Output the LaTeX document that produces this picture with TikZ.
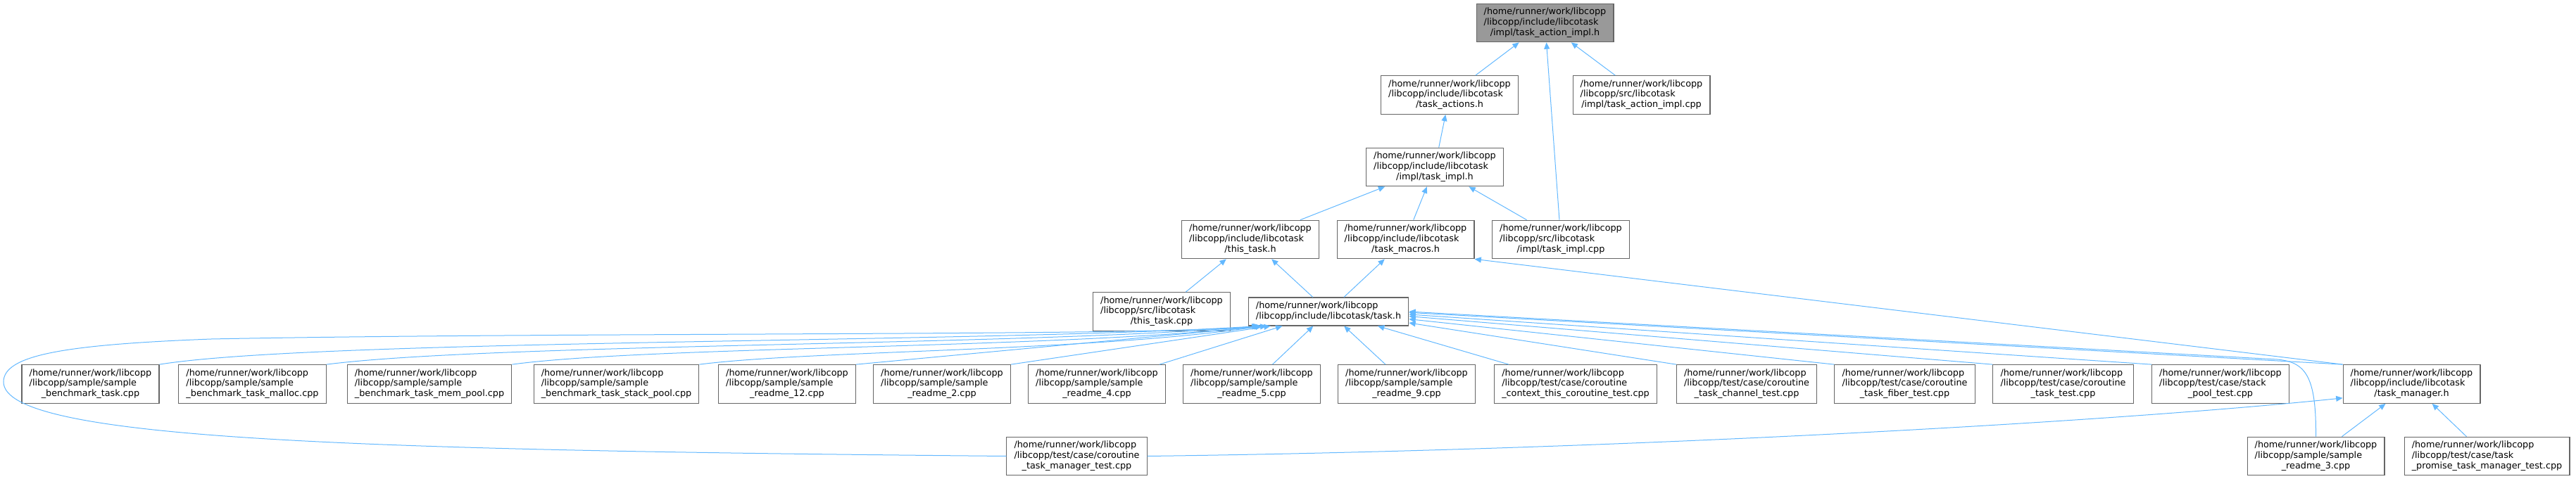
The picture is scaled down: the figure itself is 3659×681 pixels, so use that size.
\documentclass[tikz,border=0pt]{standalone}
\usepackage{fontspec}
\setmainfont{DejaVu Sans}
\usetikzlibrary{arrows.meta}

\definecolor{edgeblue}{HTML}{63B8FF}
\definecolor{boxgray}{HTML}{666666}
\definecolor{focusgray}{HTML}{999999}

% three-line file label: fixed prefix, middle line, centred last line
\newcommand{\filelabel}[2]{%
  \begin{tabular}{@{}l@{}}
    /home/runner/work/libcopp\\
    #1\\
    \multicolumn{1}{@{}c@{}}{#2}
  \end{tabular}}

\begin{document}
\begin{tikzpicture}[
    x=0.75pt, y=-0.75pt,
    file/.style={
        draw=boxgray,
        fill=white,
        line width=0.8pt,
        inner xsep=8pt,
        inner ysep=4pt,
        font=\fontsize{9.6}{11}\selectfont
    },
    focus/.style={file, fill=focusgray},
    dep/.style={-{Triangle[length=7pt, width=6pt]}, draw=edgeblue, line width=0.75pt}
]
\useasboundingbox (0,0) rectangle (3659,681);

% headers on top
\node[focus] (actimpl) at (2194.5,32.5) {\filelabel{/libcopp/include/libcotask}{/impl/task\_action\_impl.h}};
\node[file] (actions) at (2059,135) {\filelabel{/libcopp/include/libcotask}{/task\_actions.h}};
\node[file] (actimplcpp) at (2331.5,135) {\filelabel{/libcopp/src/libcotask}{/impl/task\_action\_impl.cpp}};
\node[file] (taskimpl) at (2038,237.5) {\filelabel{/libcopp/include/libcotask}{/impl/task\_impl.h}};
\node[file] (thistask) at (1776,340.5) {\filelabel{/libcopp/include/libcotask}{/this\_task.h}};
\node[file] (macros) at (1996.5,340.5) {\filelabel{/libcopp/include/libcotask}{/task\_macros.h}};
\node[file] (taskimplcpp) at (2217,340.5) {\filelabel{/libcopp/src/libcotask}{/impl/task\_impl.cpp}};
\node[file] (thistaskcpp) at (1650,443) {\filelabel{/libcopp/src/libcotask}{/this\_task.cpp}};
\node[file] (task) at (1887,443) {\begin{tabular}{@{}l@{}}/home/runner/work/libcopp\\/libcopp/include/libcotask/task.h\end{tabular}};

% files including task.h
\node[file] (bench) at (128.5,546) {\filelabel{/libcopp/sample/sample}{\_benchmark\_task.cpp}};
\node[file] (benchmalloc) at (358.5,546) {\filelabel{/libcopp/sample/sample}{\_benchmark\_task\_malloc.cpp}};
\node[file] (benchmem) at (610,546) {\filelabel{/libcopp/sample/sample}{\_benchmark\_task\_mem\_pool.cpp}};
\node[file] (benchstack) at (875.5,546) {\filelabel{/libcopp/sample/sample}{\_benchmark\_task\_stack\_pool.cpp}};
\node[file] (readme12) at (1118,546) {\filelabel{/libcopp/sample/sample}{\_readme\_12.cpp}};
\node[file] (readme2) at (1338,546) {\filelabel{/libcopp/sample/sample}{\_readme\_2.cpp}};
\node[file] (readme4) at (1558,546) {\filelabel{/libcopp/sample/sample}{\_readme\_4.cpp}};
\node[file] (readme5) at (1778,546) {\filelabel{/libcopp/sample/sample}{\_readme\_5.cpp}};
\node[file] (readme9) at (1998,546) {\filelabel{/libcopp/sample/sample}{\_readme\_9.cpp}};
\node[file] (ctxtest) at (2238,546) {\filelabel{/libcopp/test/case/coroutine}{\_context\_this\_coroutine\_test.cpp}};
\node[file] (chantest) at (2481,546) {\filelabel{/libcopp/test/case/coroutine}{\_task\_channel\_test.cpp}};
\node[file] (fibertest) at (2705.5,546) {\filelabel{/libcopp/test/case/coroutine}{\_task\_fiber\_test.cpp}};
\node[file] (cotasktest) at (2930.5,546) {\filelabel{/libcopp/test/case/coroutine}{\_task\_test.cpp}};
\node[file] (stacktest) at (3154,546) {\filelabel{/libcopp/test/case/stack}{\_pool\_test.cpp}};
\node[file] (manager) at (3425.5,546) {\filelabel{/libcopp/include/libcotask}{/task\_manager.h}};

% bottom row
\node[file] (mgrtest) at (1529.5,648.5) {\filelabel{/libcopp/test/case/coroutine}{\_task\_manager\_test.cpp}};
\node[file] (readme3) at (3289.5,648.5) {\filelabel{/libcopp/sample/sample}{\_readme\_3.cpp}};
\node[file] (promisetest) at (3532.5,648.5) {\filelabel{/libcopp/test/case/task}{\_promise\_task\_manager\_test.cpp}};

% upper edges
\draw[dep] (actions) -- (actimpl);
\draw[dep] (actimplcpp) -- (actimpl);
\draw[dep] (taskimplcpp) -- (actimpl);
\draw[dep] (taskimpl) -- (actions);
\draw[dep] (thistask) -- (taskimpl);
\draw[dep] (macros) -- (taskimpl);
\draw[dep] (taskimplcpp) -- (taskimpl);
\draw[dep] (thistaskcpp) -- (thistask);
\draw[dep] (task) -- (thistask);
\draw[dep] (task) -- (macros);
\draw[dep] (manager.north west) -- (macros.south east);

% edges into task.h
\draw[dep] (bench.north east) .. controls (450,482) and (1400,488) .. ([xshift=12pt]task.south west);
\draw[dep] (benchmalloc.north east) .. controls (700,488) and (1450,492) .. ([xshift=13pt]task.south west);
\draw[dep] (benchmem.north east) .. controls (920,492) and (1500,496) .. ([xshift=14pt]task.south west);
\draw[dep] (benchstack.north east) .. controls (1150,498) and (1550,500) .. ([xshift=15pt]task.south west);
\draw[dep] (readme12.north east) -- ([xshift=20pt]task.south west);
\draw[dep] (readme2.north east) -- ([xshift=24pt]task.south west);
\draw[dep] (readme4) -- (task);
\draw[dep] (readme5) -- (task);
\draw[dep] (readme9) -- (task);
\draw[dep] (ctxtest) -- (task);
\draw[dep] (chantest.north west) -- ([yshift=-12pt]task.east);
\draw[dep] (fibertest.north west) -- ([yshift=-8pt]task.east);
\draw[dep] (cotasktest.north west) -- ([yshift=-5pt]task.east);
\draw[dep] (stacktest.north west) -- ([yshift=-3pt]task.east);
\draw[dep] (manager.north west) -- ([yshift=-1pt]task.east);
\draw[dep] (readme3.north) .. controls (3290,535) and (3275,515) .. (3235,511) -- (task.east);
\draw[dep] (mgrtest.west) .. controls (500,640) and (5,625) .. (5,543)
    .. controls (5,505) and (90,490) .. (300,482)
    .. controls (800,472) and (1650,478) .. ([xshift=11pt]task.south west);

% edges into task_manager.h
\draw[dep] (mgrtest.east) .. controls (2300,640) and (3000,600) .. ([yshift=6pt]manager.south west);
\draw[dep] (readme3) -- (manager);
\draw[dep] (promisetest) -- (manager);

\end{tikzpicture}
\end{document}
